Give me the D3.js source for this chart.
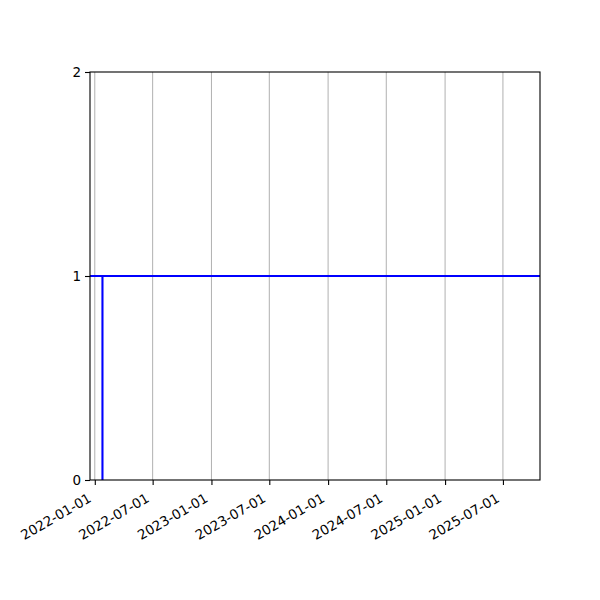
<!DOCTYPE html>
<html>
<head>
<meta charset="utf-8">
<script src="https://cdn.jsdelivr.net/npm/d3@7"></script>
<style>
  body { margin: 0; background: #fff; }
  text { font-family: "DejaVu Sans", sans-serif; }
</style>
</head>
<body>
<svg id="chart"></svg>
<script>
// line points (date, value) - the step at late Jan 2022, flat at 1 afterwards
let lineDates = ["2021-11-01", "2022-01-25", "2022-01-25", "2022-01-25", "2026-03-01"];
let lineValues = [1, 1, 0, 1, 1];
let tickDates = ["2022-01-01", "2022-07-01", "2023-01-01", "2023-07-01",
                 "2024-01-01", "2024-07-01", "2025-01-01", "2025-07-01"];
let yTicks = [0, 1, 2];
let xStart = "2021-12-17";
let xEnd = "2025-10-25";

let margin = {top: 72, right: 60, bottom: 120, left: 90};
let width = 600 - margin.left - margin.right;
let height = 600 - margin.top - margin.bottom;

let parse = d3.utcParse("%Y-%m-%d");

let svg = d3.select("#chart")
    .attr("width", 600)
    .attr("height", 600);

let g = svg.append("g")
    .attr("transform", "translate(" + margin.left + "," + margin.top + ")");

let x = d3.scaleUtc()
    .domain([parse(xStart), parse(xEnd)])
    .range([0, width]);

let y = d3.scaleLinear()
    .domain([0, 2])
    .range([height, 0]);

let ticks = tickDates.map(parse);

// vertical grid
g.append("g")
    .selectAll("line")
    .data(ticks)
    .enter()
    .append("line")
    .attr("x1", d => x(d))
    .attr("x2", d => x(d))
    .attr("y1", 0)
    .attr("y2", height)
    .attr("stroke", "#b0b0b0")
    .attr("stroke-width", 1);

g.append("clipPath")
    .attr("id", "clip")
    .append("rect")
    .attr("width", width)
    .attr("height", height);

let points = lineDates.map((d, i) => [parse(d), lineValues[i]]);
let line = d3.line()
    .x(d => x(d[0]))
    .y(d => y(d[1]));

g.append("path")
    .datum(points)
    .attr("clip-path", "url(#clip)")
    .attr("d", line)
    .attr("fill", "none")
    .attr("stroke", "#0000ff")
    .attr("stroke-width", 2.1);

// frame
g.append("rect")
    .attr("width", width)
    .attr("height", height)
    .attr("fill", "none")
    .attr("stroke", "#000")
    .attr("stroke-width", 1.1);

// x axis
let xAxis = g.append("g")
    .attr("transform", "translate(0," + height + ")")
    .call(d3.axisBottom(x)
        .tickValues(ticks)
        .tickFormat(d3.utcFormat("%Y-%m-%d"))
        .tickSize(5)
        .tickSizeOuter(0));
xAxis.select(".domain").remove();
xAxis.selectAll("line").attr("stroke", "#000").attr("stroke-width", 1.1);
xAxis.selectAll("text")
    .attr("font-size", 13.5)
    .attr("fill", "#000")
    .attr("text-anchor", "end")
    .attr("x", null)
    .attr("y", null)
    .attr("dy", null)
    .attr("transform", "translate(-3,21) rotate(-30)");

// y axis
let yAxis = g.append("g")
    .call(d3.axisLeft(y)
        .tickValues(yTicks)
        .tickFormat(d3.format("d"))
        .tickSize(5)
        .tickSizeOuter(0));
yAxis.select(".domain").remove();
yAxis.selectAll("line").attr("stroke", "#000").attr("stroke-width", 1.1);
yAxis.selectAll("text")
    .attr("font-size", 13.5)
    .attr("fill", "#000")
    .attr("x", -9);
</script>
</body>
</html>
